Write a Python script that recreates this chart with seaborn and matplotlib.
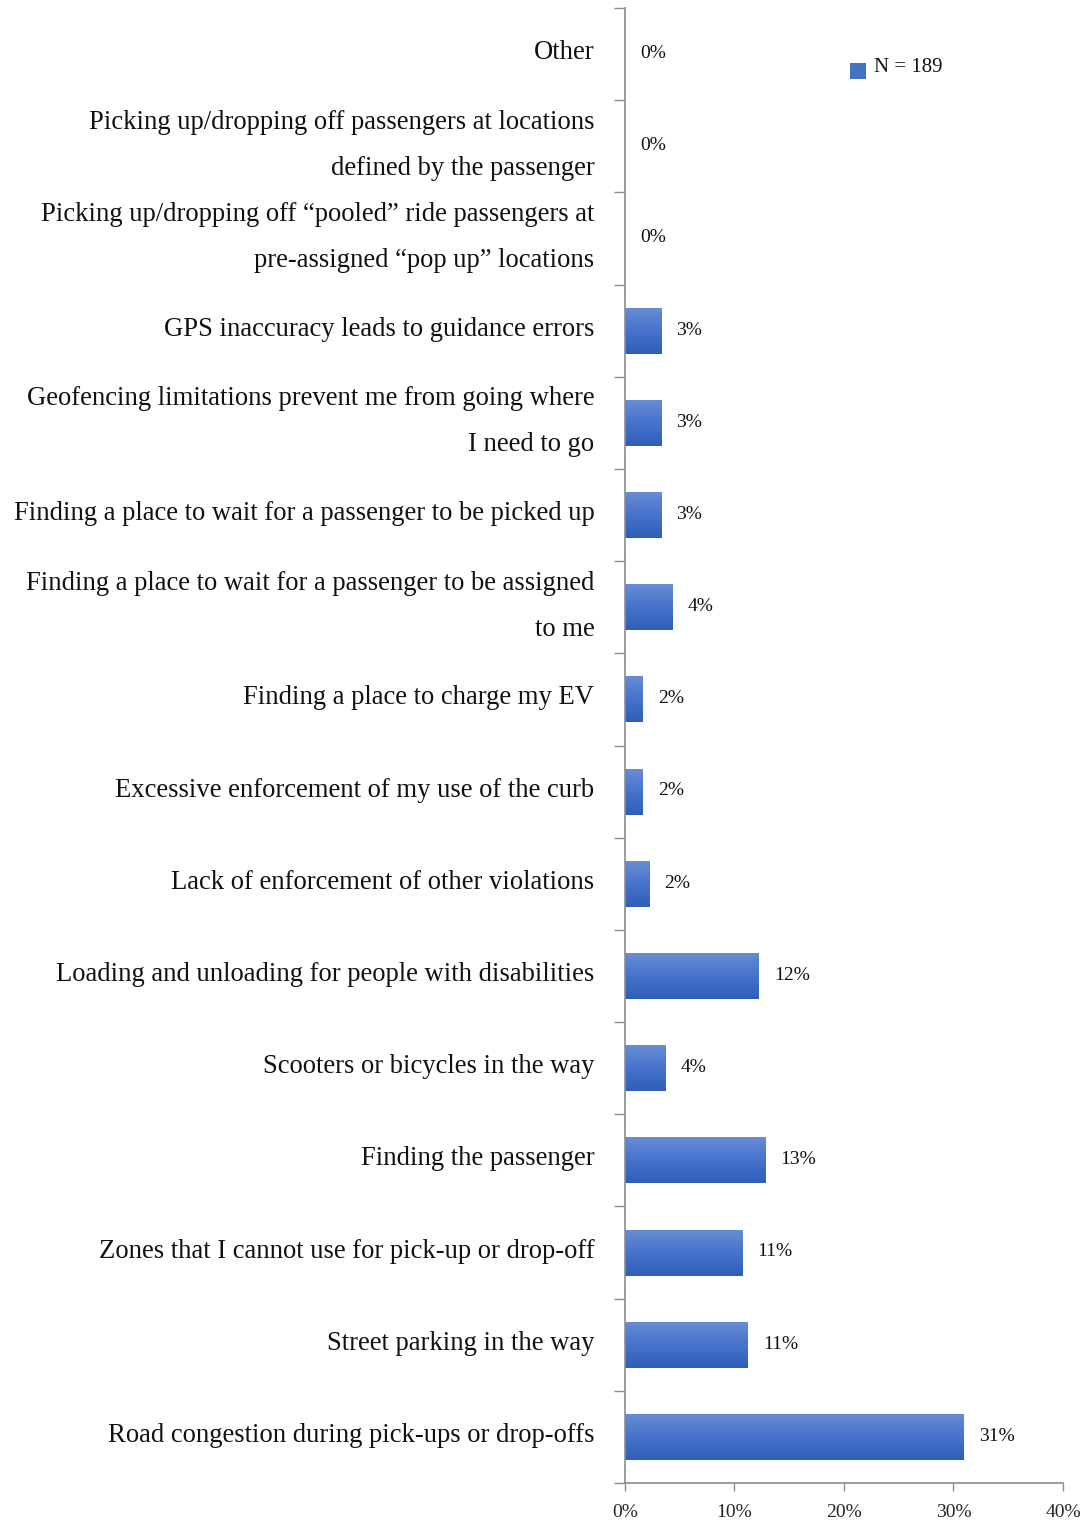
import numpy as np
import pandas as pd
import matplotlib
matplotlib.use("Agg")
import matplotlib.pyplot as plt
import matplotlib.transforms as mtransforms
from matplotlib.colors import LinearSegmentedColormap
from matplotlib.ticker import FixedLocator, PercentFormatter
from matplotlib.patches import Rectangle
import seaborn as sns

# Survey responses: curb-related challenges reported by drivers (share of respondents, %)
categories = [
    "Other",
    "Picking up/dropping off passengers at locations\ndefined by the passenger",
    "Picking up/dropping off \u201cpooled\u201d ride passengers at\npre-assigned \u201cpop up\u201d locations",
    "GPS inaccuracy leads to guidance errors",
    "Geofencing limitations prevent me from going where\nI need to go",
    "Finding a place to wait for a passenger to be picked up",
    "Finding a place to wait for a passenger to be assigned\nto me",
    "Finding a place to charge my EV",
    "Excessive enforcement of my use of the curb",
    "Lack of enforcement of other violations",
    "Loading and unloading for people with disabilities",
    "Scooters or bicycles in the way",
    "Finding the passenger",
    "Zones that I cannot use for pick-up or drop-off",
    "Street parking in the way",
    "Road congestion during pick-ups or drop-offs",
]
shares = [0.0, 0.0, 0.0, 3.3, 3.3, 3.3, 4.3, 1.6, 1.6, 2.2, 12.2, 3.7, 12.8, 10.7, 11.2, 30.9]
x_ticks = [0, 10, 20, 30, 40]
sample_note = "N = 189"

df = pd.DataFrame({"category": categories, "share": shares})

sns.set_theme(style="white")
plt.rcParams["font.family"] = ["Liberation Serif", "DejaVu Serif"]

fig = plt.figure(figsize=(10.89, 15.24), dpi=100)
ax = fig.add_axes([0.5739, 0.0269, 0.4022, 0.9678])

sns.barplot(data=df, x="share", y="category", orient="h", width=0.5,
            color="#4472c4", ax=ax, saturation=1)

# vertical blue gradient inside every bar
grad_cmap = LinearSegmentedColormap.from_list(
    "bar_grad", ["#6a8ed4", "#4773cc", "#2f5db8"])
grad = np.linspace(0, 1, 256).reshape(-1, 1)
for patch in list(ax.patches):
    w = patch.get_width()
    if w <= 0:
        patch.set_visible(False)
        continue
    x0, y0 = patch.get_x(), patch.get_y()
    h = patch.get_height()
    patch.set_facecolor("none")
    patch.set_edgecolor("none")
    im = ax.imshow(grad, cmap=grad_cmap, aspect="auto",
                   extent=(x0, x0 + w, y0 + h, y0), origin="upper", zorder=2)
    im.set_clip_path(patch)

ax.set_xlim(0, 40)
ax.set_ylim(len(categories) - 0.5, -0.5)

# value labels
for i, v in enumerate(shares):
    ax.annotate(f"{v:.0f}%", xy=(v, i), xytext=(11, 0.5), textcoords="offset points",
                va="center", ha="left", fontsize=14, color="#111111")

ax.set_xlabel("")
ax.set_ylabel("")
ax.xaxis.set_major_locator(FixedLocator(x_ticks))
ax.xaxis.set_major_formatter(PercentFormatter(decimals=0))
ax.tick_params(axis="x", which="major", length=6, width=1, color="#8c8c8c",
               labelsize=14, pad=9, bottom=True)

# category labels at bar centres, tick marks at category boundaries
ax.set_yticks(range(len(categories)))
ax.set_yticklabels(categories, fontsize=19.2, linespacing=2.1, color="#111111")
ax.tick_params(axis="y", which="major", length=0, pad=22)
ax.yaxis.set_minor_locator(FixedLocator(np.arange(-0.5, len(categories), 1.0)))
ax.tick_params(axis="y", which="minor", length=8, width=1, color="#8c8c8c", left=True)

# nudge category labels upward (two-line labels a bit more)
for lbl in ax.get_yticklabels():
    dy = 14.5 if "\n" in lbl.get_text() else 4.5
    lift = mtransforms.ScaledTranslation(0, dy / 100, fig.dpi_scale_trans)
    lbl.set_transform(lbl.get_transform() + lift)

for side in ("top", "right"):
    ax.spines[side].set_visible(False)
for side in ("left", "bottom"):
    ax.spines[side].set_color("#8c8c8c")
    ax.spines[side].set_linewidth(1.2)
ax.grid(False)

# legend-style sample size note
fig.add_artist(Rectangle((850 / 1089, 1 - 79 / 1524), 16 / 1089, 16 / 1524,
                         transform=fig.transFigure, facecolor="#4472c4",
                         edgecolor="none"))
fig.text(874 / 1089, 1 - 68 / 1524, sample_note, fontsize=15, va="center",
         ha="left", color="#111111")

fig.savefig("out.png", dpi=100)
